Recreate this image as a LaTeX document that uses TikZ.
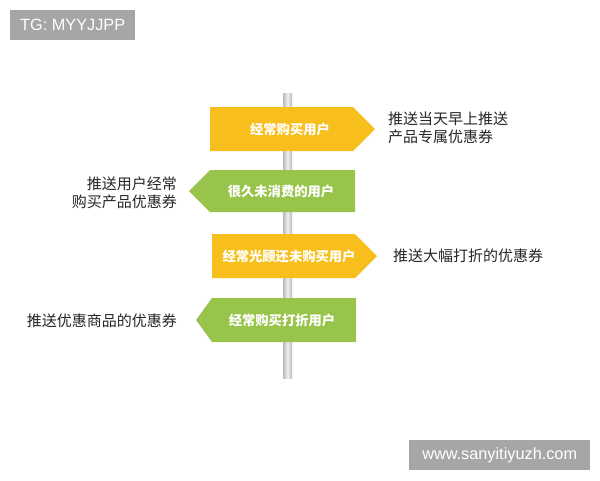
\documentclass[tikz,border=0pt]{standalone}
\usepackage{fontspec}
\setmainfont{Liberation Sans}
\newfontfamily\cjk{Noto Sans CJK SC}
\definecolor{signyel}{HTML}{F8BF1C}
\definecolor{signgrn}{HTML}{98C44C}
\definecolor{tagbg}{HTML}{A6A6A6}
\begin{document}
\begin{tikzpicture}[x=1pt,y=-1pt,
  signtext/.style={text=white,font=\cjk\bfseries\fontsize{13.3}{16}\selectfont,inner sep=0pt},
  sidetext/.style={text=black!85,font=\cjk\fontsize{15}{18}\selectfont,inner sep=0pt},
  tag/.style={fill=tagbg,text=white,font=\fontsize{16.3}{18}\selectfont,inner sep=0pt,minimum height=30pt}]
\useasboundingbox (0,0) rectangle (600,480);
\fill[white] (0,0) rectangle (600,480);
% pole
\shade[left color=gray!55,right color=gray!55,middle color=gray!12] (283,93) rectangle (292,378);
% signs
\fill[signyel] (210,107) -- (353,107) -- (375,129) -- (353,151) -- (210,151) -- cycle;
\fill[signgrn] (355,170) -- (210,170) -- (189,191) -- (210,212) -- (355,212) -- cycle;
\fill[signyel] (212,234) -- (355,234) -- (377,256) -- (355,278) -- (212,278) -- cycle;
\fill[signgrn] (356,298) -- (212,298) -- (196,320) -- (212,342) -- (356,342) -- cycle;
\node[signtext] (s1) at (290,129) {经常购买用户};
\node[signtext] (s2) at (281,191) {很久未消费的用户};
\node[signtext] (s3) at (289,256) {经常光顾还未购买用户};
\node[signtext] (s4) at (282,320) {经常购买打折用户};
% side texts
\node[sidetext,anchor=west,align=left] (t1) at (388,128) {推送当天早上推送\\产品专属优惠券};
\node[sidetext,anchor=east,align=right] (t2) at (177,193) {推送用户经常\\购买产品优惠券};
\node[sidetext,anchor=west] (t3) at (393,256) {推送大幅打折的优惠券};
\node[sidetext,anchor=east] (t4) at (177,321) {推送优惠商品的优惠券};
% tags
\node[tag,anchor=north west,minimum width=125pt] (tg) at (10,10) {TG: MYYJJPP};
\node[tag,anchor=north west,minimum width=181pt] (www) at (409,440) {www.sanyitiyuzh.com};
\end{tikzpicture}
\end{document}
